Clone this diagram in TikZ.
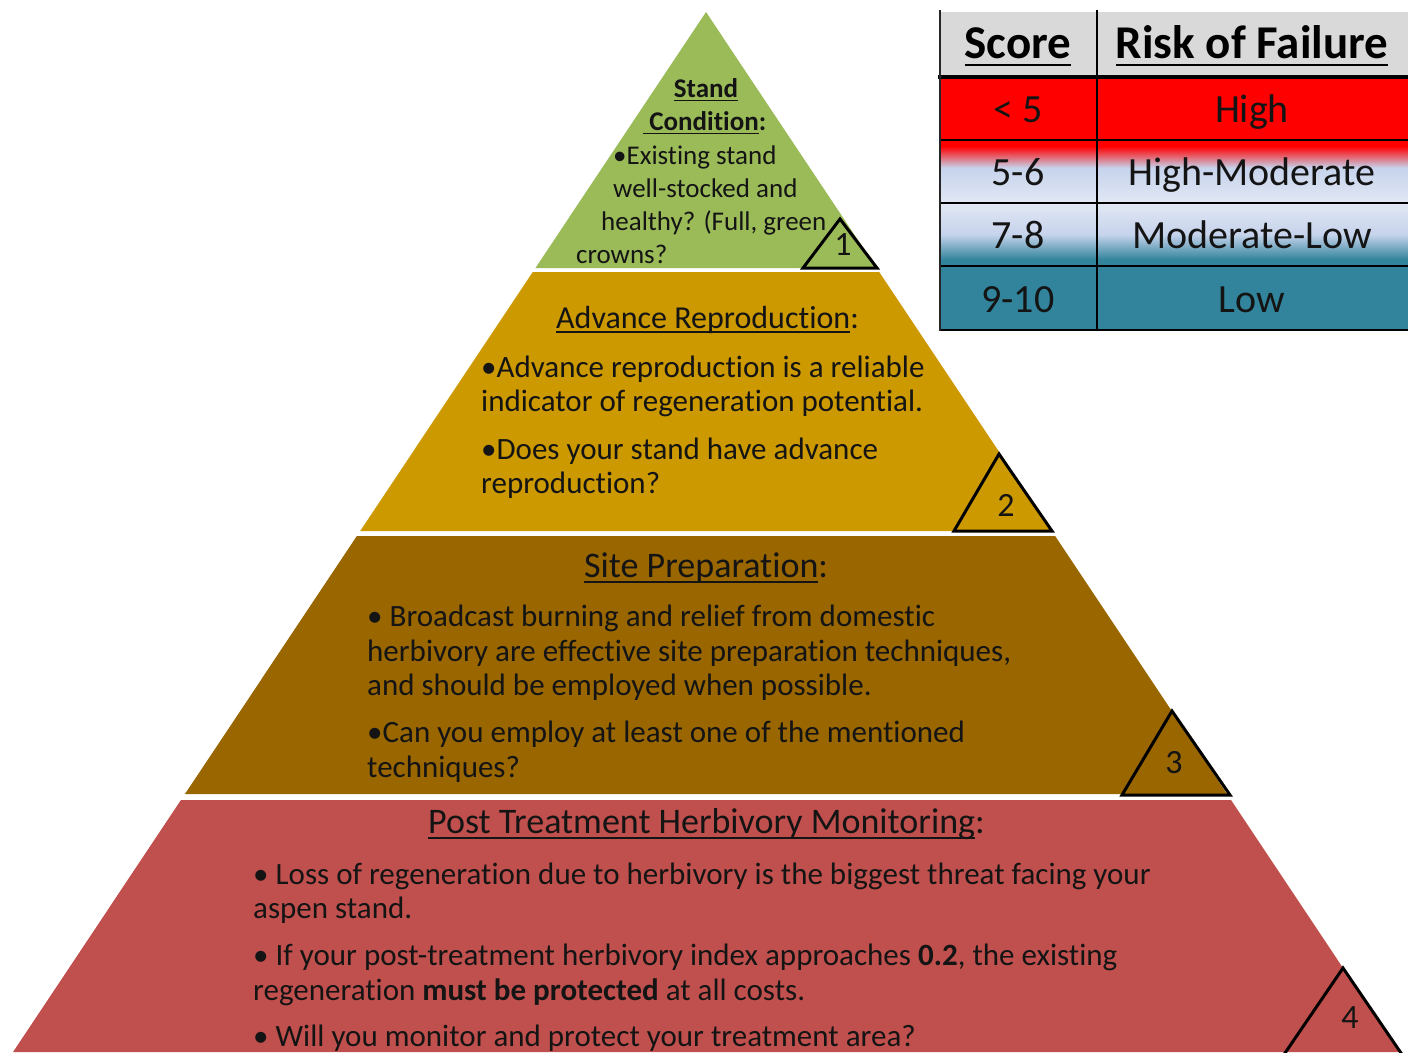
\documentclass[tikz,border=0pt]{standalone}
\usepackage{fontspec}
\setmainfont{Carlito}[Ligatures=NoCommon]
\newcommand{\myuline}[1]{\setbox0\hbox{#1}\rlap{\rule[-0.16em]{\wd0}{1.7pt}}\box0}
\definecolor{lgreen}{HTML}{9BBB59}
\definecolor{lgold}{HTML}{CC9900}
\definecolor{lbrown}{HTML}{996600}
\definecolor{lred}{HTML}{C0504D}
\definecolor{hgray}{HTML}{D9D9D9}
\definecolor{tteal}{HTML}{31849B}
\definecolor{tblue}{HTML}{C6D3EC}
\definecolor{tlight}{HTML}{E2E8F4}
\definecolor{rred}{HTML}{FF0000}
\definecolor{txt}{HTML}{141414}
\pgfdeclareverticalshading{rowtwo}{100bp}{color(0bp)=(tlight); color(25bp)=(tlight); color(53bp)=(tblue); color(70bp)=(rred); color(75bp)=(rred); color(100bp)=(rred)}
\pgfdeclareverticalshading{rowthree}{100bp}{color(0bp)=(tteal); color(25bp)=(tteal); color(30bp)=(tteal); color(50bp)=(tblue); color(75bp)=(tlight); color(100bp)=(tlight)}
\tikzset{
  body/.style={anchor=base west, inner sep=0pt, text=txt, font=\fontsize{31}{34}\selectfont},
  small/.style={anchor=base west, inner sep=0pt, text=txt, font=\fontsize{27}{33}\selectfont},
  ttl/.style={anchor=base west, inner sep=0pt, text=txt, font=\fontsize{36}{40}\selectfont},
  numtri/.style={draw=black, line width=3pt, line join=miter},
  numtxt/.style={inner sep=0pt, text=txt, font=\fontsize{34}{40}\selectfont},
  thead/.style={anchor=base, inner sep=0pt, text=black, font=\fontsize{47}{52}\selectfont\bfseries},
  tcell/.style={anchor=base, inner sep=0pt, text=txt, font=\fontsize{40}{46}\selectfont},
  tline/.style={draw=black, line width=1.2pt}
}
\begin{document}
\begin{tikzpicture}[x=1pt,y=-1pt]
\useasboundingbox (0,0) rectangle (1408,1052);
\fill[white] (0,0) rectangle (1408,1052);
% pyramid layers
\def\kk{0.6663}
\fill[lgreen] (706,12) -- ({706+\kk*256},268) -- ({706-\kk*256},268) -- cycle;
\fill[lgold] ({706-\kk*260},272) -- ({706+\kk*260},272) -- ({706+\kk*519},531) -- ({706-\kk*519},531) -- cycle;
\fill[lbrown] ({706-\kk*524},536) -- ({706+\kk*524},536) -- ({706+\kk*782},794) -- ({706-\kk*782},794) -- cycle;
\fill[lred] ({706-\kk*788},800) -- ({706+\kk*788},800) -- ({706+\kk*1040},1052) -- ({706-\kk*1040},1052) -- cycle;

% number triangles
\begin{scope}
\clip (0,0) rectangle (1408,1052);
\coordinate (t1a) at (803,268); \coordinate (t1b) at (877,268); \coordinate (t1c) at (840,219);
\draw[numtri] (t1a) -- (t1b) -- (t1c) -- cycle;
\coordinate (t2a) at (954,531); \coordinate (t2b) at (1052,531); \coordinate (t2c) at (999,454);
\draw[numtri] (t2a) -- (t2b) -- (t2c) -- cycle;
\coordinate (t3a) at (1122,795); \coordinate (t3b) at (1230,795); \coordinate (t3c) at (1172,711);
\draw[numtri] (t3a) -- (t3b) -- (t3c) -- cycle;
\coordinate (t4a) at (1270,1075); \coordinate (t4b) at (1416,1075); \coordinate (t4c) at (1343,968);
\draw[numtri] (t4a) -- (t4b) -- (t4c) -- cycle;
\end{scope}
\node[numtxt] (n1) at (843,245) {1};
\node[numtxt] (n2) at (1006,505) {2};
\node[numtxt] (n3) at (1174,763) {3};
\node[numtxt] (n4) at (1350,1018) {4};

% level 1 text
\node[small, anchor=base, font=\fontsize{27}{33}\selectfont\bfseries] (s1) at (706,97) {\myuline{Stand}};
\node[small, font=\fontsize{27}{33}\selectfont\bfseries] (s2) at (643,130) {\myuline{\ Condition}:};
\node[small] (s3) at (613,164) {•Existing stand};
\node[small] (s4) at (613,197) {well-stocked and};
\node[small] (s5) at (601,230) {healthy? (Full, green};
\node[small] (s6) at (576,263) {crowns?};

% level 2 text
\node[ttl, font=\fontsize{32}{36}\selectfont] (a0) at (556,328) {\myuline{Advance Reproduction}:};
\node[body] (a1) at (481,377) {•Advance reproduction is a reliable};
\node[body] (a2) at (481,411) {indicator of regeneration potential.};
\node[body] (a3) at (481,459) {•Does your stand have advance};
\node[body] (a4) at (481,493) {reproduction?};

% level 3 text
\node[ttl] (b0) at (584,577) {\myuline{Site Preparation}:};
\node[body] (b1) at (367,626) {• Broadcast burning and relief from domestic};
\node[body] (b2) at (367,661) {herbivory are effective site preparation techniques,};
\node[body] (b3) at (367,695) {and should be employed when possible.};
\node[body] (b4) at (367,742) {•Can you employ at least one of the mentioned};
\node[body] (b5) at (367,777) {techniques?};

% level 4 text
\node[ttl] (c0) at (428,833) {\myuline{Post Treatment Herbivory Monitoring}:};
\node[body] (c1) at (253,884) {• Loss of regeneration due to herbivory is the biggest threat facing your};
\node[body] (c2) at (253,918) {aspen stand.};
\node[body] (c3) at (253,965) {• If your post-treatment herbivory index approaches \textbf{0.2}, the existing};
\node[body] (c4) at (253,1000) {regeneration \textbf{must be protected} at all costs.};
\node[body] (c5) at (253,1046) {• Will you monitor and protect your treatment area?};

% table
\fill[hgray] (940,12) rectangle (1408,77);
\fill[rred] (940,77) rectangle (1408,140);
\shade[shading=rowtwo] (940,140) rectangle (1408,203);
\shade[shading=rowthree] (940,203) rectangle (1408,266);
\fill[tteal] (940,266) rectangle (1408,330);
\draw[tline] (940,140) -- (1408,140);
\draw[tline] (940,203) -- (1408,203);
\draw[tline] (940,266) -- (1408,266);
\draw[tline] (940,330) -- (1408,330);
\draw[draw=black, line width=3.5pt] (938,77) -- (1408,77);
\draw[draw=black!85, line width=2pt] (940,10) -- (940,331);
\draw[tline] (1097,10) -- (1097,330);

\node[thead] (h1) at (1018,58) {\myuline{Score}};
\node[thead] (h2) at (1252,58) {\myuline{Risk of Failure}};
\node[tcell] (r1a) at (1018,122) {< 5};
\node[tcell] (r1b) at (1252,122) {High};
\node[tcell] (r2a) at (1018,185) {5-6};
\node[tcell] (r2b) at (1252,185) {High-Moderate};
\node[tcell] (r3a) at (1018,248) {7-8};
\node[tcell] (r3b) at (1252,248) {Moderate-Low};
\node[tcell] (r4a) at (1018,312) {9-10};
\node[tcell] (r4b) at (1252,312) {Low};
\end{tikzpicture}
\end{document}
